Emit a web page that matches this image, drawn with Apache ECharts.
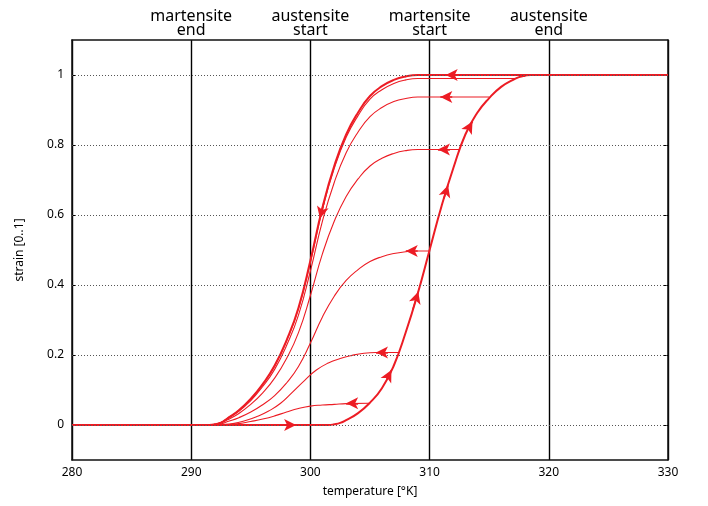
<!DOCTYPE html>
<html>
<head>
<meta charset="utf-8">
<script src="https://cdn.jsdelivr.net/npm/echarts@6/dist/echarts.min.js"></script>
<style>html,body{margin:0;padding:0;background:#fff}#c{width:708px;height:506px}</style>
</head>
<body>
<div id="c"></div>
<script>
// ---- data ----
const xTicks = [280, 290, 300, 310, 320, 330];
const yTicks = [0, 0.2, 0.4, 0.6, 0.8, 1];
const phaseTemps = [290, 300, 310, 320];
const phaseLabels = ['martensite\nend', 'austensite\nstart', 'martensite\nstart', 'austensite\nend'];

// major heating curve
const heatT = [280, 301.5, 302, 302.5, 303, 304, 305, 306, 307, 308, 309, 310, 311, 312, 313, 314, 315, 316, 317, 317.5, 318, 318.5, 330];
const heatV = [0, 0, 0.002, 0.006, 0.014, 0.034, 0.064, 0.105, 0.17, 0.265, 0.375, 0.5, 0.625, 0.735, 0.83, 0.892, 0.934, 0.966, 0.986, 0.994, 0.998, 1, 1];

// major cooling curve
const coolT = [330, 309, 308, 307, 306, 305, 304, 303, 302, 301, 300, 299, 298, 297, 296, 295, 294, 293, 292.5, 292, 291.5];
const coolV = [1, 1, 0.996, 0.986, 0.968, 0.94, 0.893, 0.83, 0.74, 0.62, 0.47, 0.335, 0.242, 0.17, 0.117, 0.075, 0.042, 0.018, 0.007, 0.002, 0];

// minor cooling loops (start on the heating curve)
const loop99T = [317.3, 309, 308, 307, 306, 305, 304, 303, 302, 301, 300, 299, 298, 297, 296, 295, 294, 293, 292.5, 292, 291.5];
const loop99V = [0.99, 0.99, 0.986, 0.976, 0.958, 0.931, 0.884, 0.822, 0.733, 0.614, 0.465, 0.332, 0.24, 0.168, 0.116, 0.074, 0.042, 0.018, 0.007, 0.002, 0];
const loop94T = [315, 309, 308, 307, 306, 305, 304, 303, 302, 301, 300, 299, 298, 297, 296, 295, 294, 293, 292.5, 292, 291.5];
const loop94V = [0.937, 0.937, 0.933, 0.924, 0.907, 0.881, 0.837, 0.778, 0.693, 0.581, 0.44, 0.314, 0.227, 0.159, 0.11, 0.07, 0.039, 0.017, 0.007, 0.002, 0];
const loop79T = [312.55, 309, 308, 307, 306, 305, 304, 303, 302, 301, 300, 299, 298, 297, 296, 295, 294, 293, 292.5, 292, 291.5];
const loop79V = [0.787, 0.787, 0.784, 0.776, 0.762, 0.74, 0.703, 0.653, 0.582, 0.488, 0.37, 0.264, 0.19, 0.134, 0.092, 0.059, 0.033, 0.014, 0.006, 0.002, 0];
const loop50T = [310, 309, 308, 307, 306, 305, 304, 303, 302, 301, 300, 299, 298, 297, 296, 295, 294, 293, 292.5, 292, 291.5];
const loop50V = [0.497, 0.497, 0.495, 0.49, 0.481, 0.467, 0.444, 0.413, 0.368, 0.308, 0.234, 0.167, 0.12, 0.084, 0.058, 0.037, 0.021, 0.009, 0.003, 0.001, 0];
const loop21T = [307.4, 305.5, 304.5, 303.5, 302.5, 301.5, 300.5, 299.5, 298.5, 297.5, 296.5, 295.5, 294.5, 293.5, 292.5, 291.8];
const loop21V = [0.207, 0.207, 0.205, 0.199, 0.19, 0.177, 0.157, 0.127, 0.094, 0.062, 0.04, 0.024, 0.012, 0.004, 0.001, 0];
const loop06T = [304.9, 303, 302, 301, 300, 299, 298, 297, 296, 295, 294, 293, 292];
const loop06V = [0.062, 0.061, 0.059, 0.057, 0.054, 0.047, 0.037, 0.026, 0.017, 0.01, 0.004, 0.001, 0];

// arrow heads: from -> to (direction of travel)
const arrowFrom = [[297.6, 0], [306.4, 0.131], [308.6, 0.331], [311.2, 0.647], [313.3, 0.849], [312.4, 1], [311.9, 0.937], [311.7, 0.787], [309, 0.497], [306.5, 0.207], [304, 0.062], [301.15, 0.638]];
const arrowTo   = [[298.8, 0], [306.8, 0.157], [309.05, 0.381], [311.55, 0.685], [313.6, 0.867], [311.35, 1], [310.9, 0.937], [310.7, 0.787], [308, 0.497], [305.5, 0.207], [303, 0.062], [300.8, 0.59]];

// ---- chart ----
const RED = '#ec1c24';
const FONT = 'Noto Sans';
const pairs = (T, V) => T.map((t, i) => [t, V[i]]);

function curve(name, T, V, width) {
  return {
    name, type: 'line', data: pairs(T, V), showSymbol: false, symbol: 'none',
    smooth: 0.5, z: 3,
    lineStyle: { color: RED, width: width }, silent: true
  };
}

const series = [
  {
    name: 'grid', type: 'line', data: [], z: 1, silent: true,
    markLine: {
      silent: true, symbol: ['none', 'none'], label: { show: false },
      lineStyle: { color: '#555', width: 1, type: [1, 2] },
      emphasis: { disabled: true },
      data: yTicks.map(v => ({ yAxis: v }))
    }
  },
  curve('loop06', loop06T, loop06V, 1.1),
  curve('loop21', loop21T, loop21V, 1.1),
  curve('loop50', loop50T, loop50V, 1.1),
  curve('loop79', loop79T, loop79V, 1.1),
  curve('loop94', loop94T, loop94V, 1.1),
  curve('loop99', loop99T, loop99V, 1.1),
  curve('cool', coolT, coolV, 2),
  curve('heat', heatT, heatV, 2),
  {
    name: 'arrows', type: 'line', data: [], z: 4, silent: true,
    markLine: {
      silent: true, symbol: ['none', 'arrow'], symbolSize: [9, 12],
      label: { show: false }, emphasis: { disabled: true },
      lineStyle: { color: RED, width: 1.5, type: 'solid' },
      itemStyle: { color: RED },
      data: arrowFrom.map((f, i) => [{ coord: f }, { coord: arrowTo[i] }])
    }
  }
];

const chart = echarts.init(document.getElementById('c'), null, { renderer: 'canvas' });
chart.setOption({
  animation: false,
  backgroundColor: '#fff',
  textStyle: { fontFamily: FONT },
  grid: { left: 72, right: 40, top: 40, bottom: 46, outerBoundsMode: 'none' },
  xAxis: [
    {
      type: 'value', min: xTicks[0], max: xTicks[xTicks.length - 1], interval: 10,
      name: 'temperature [°K]', nameLocation: 'middle', nameGap: 26,
      nameTextStyle: { fontSize: 12, color: '#000', fontFamily: FONT },
      axisLine: { show: true, onZero: false, lineStyle: { color: '#111', width: 1.5 } },
      axisTick: { show: false },
      axisLabel: { color: '#000', fontSize: 12, margin: 7, fontFamily: FONT },
      splitLine: { show: true, lineStyle: { color: '#000', width: 1.4 } }
    },
    {
      type: 'value', position: 'top', min: xTicks[0], max: xTicks[xTicks.length - 1], interval: 10,
      axisLine: { show: true, onZero: false, lineStyle: { color: '#111', width: 1.5 } },
      axisTick: { show: false },
      splitLine: { show: false },
      axisLabel: {
        color: '#000', fontSize: 16, lineHeight: 14, margin: 3, fontFamily: FONT,
        formatter: v => { const i = phaseTemps.indexOf(v); return i >= 0 ? phaseLabels[i] : ''; }
      }
    }
  ],
  yAxis: [
    {
      type: 'value', min: -0.1, max: 1.1,
      name: 'strain [0..1]', nameLocation: 'middle', nameGap: 46,
      nameTextStyle: { fontSize: 12, color: '#000', fontFamily: FONT },
      axisLine: { show: true, onZero: false, lineStyle: { color: '#111', width: 1.5 } },
      axisTick: { show: true, inside: true, length: 4, customValues: yTicks, lineStyle: { color: '#000' } },
      axisLabel: { color: '#000', fontSize: 12, margin: 8, customValues: yTicks, fontFamily: FONT },
      splitLine: { show: false }
    },
    {
      type: 'value', position: 'right', min: -0.1, max: 1.1,
      axisLine: { show: true, onZero: false, lineStyle: { color: '#111', width: 1.5 } },
      axisTick: { show: true, inside: true, length: 4, customValues: yTicks, lineStyle: { color: '#000' } },
      axisLabel: { show: false },
      splitLine: { show: false }
    }
  ],
  series
});
</script>
</body>
</html>
